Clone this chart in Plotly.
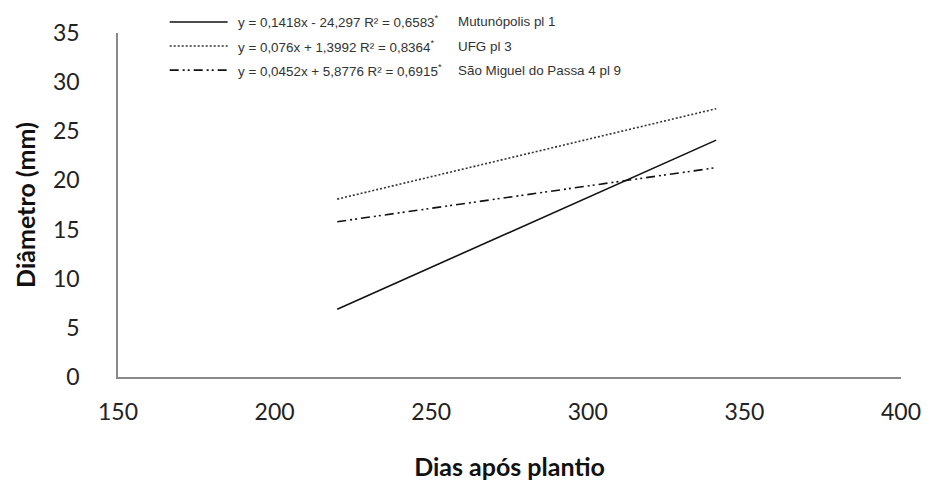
import plotly.graph_objects as go

# Days after planting at which each fitted line is drawn
dias = [220, 341]

# Fitted diameter (mm) at the two ends of each regression line
mutunopolis = [6.9, 24.1]
ufg = [18.1, 27.3]
sao_miguel = [15.8, 21.3]

# Key text: regression equations and site names
equacoes = [
    "y = 0,1418x - 24,297 R² = 0,6583<sup>*</sup>",
    "y = 0,076x + 1,3992 R² = 0,8364<sup>*</sup>",
    "y = 0,0452x + 5,8776 R² = 0,6915<sup>*</sup>",
]
locais = ["Mutunópolis pl 1", "UFG pl 3", "São Miguel do Passa 4 pl 9"]

x_ticks = [150, 200, 250, 300, 350, 400]
y_ticks = [0, 5, 10, 15, 20, 25, 30, 35]

series = [
    (mutunopolis, dict(color="#111111", width=1.6, dash="solid")),
    (ufg, dict(color="#333333", width=1.6, dash="2px,2px")),
    (sao_miguel, dict(color="#111111", width=1.6, dash="9px,4px,2px,3px,2px,4px")),
]

fig = go.Figure()
for (vals, style), nome in zip(series, locais):
    fig.add_trace(go.Scatter(x=dias, y=vals, mode="lines", line=style,
                             name=nome, showlegend=False, hoverinfo="x+y"))

# Hand-drawn key in the top part of the plotting area
key_font = dict(family="Liberation Sans, Arial", size=13.4, color="#333333")
row_y = [1.032, 0.962, 0.892]
for (vals, style), eq, nome, yy in zip(series, equacoes, locais, row_y):
    fig.add_shape(type="line", xref="paper", yref="paper",
                  x0=0.066, x1=0.14, y0=yy, y1=yy, line=style)
    fig.add_annotation(xref="paper", yref="paper", x=0.151, y=yy,
                       text=eq, showarrow=False, xanchor="left", yanchor="middle",
                       font=key_font)
    fig.add_annotation(xref="paper", yref="paper", x=0.432, y=yy,
                       text=nome, showarrow=False, xanchor="left", yanchor="middle",
                       font=key_font)

axis_font = dict(family="Lato, Open Sans, sans-serif", size=23, color="#222222")
title_font = dict(family="Lato, Open Sans, sans-serif", size=25, color="#111111")

fig.update_layout(
    width=933, height=495,
    margin=dict(l=118, r=27, t=33, b=118),
    plot_bgcolor="white", paper_bgcolor="white",
    xaxis=dict(range=[150, 400], tickvals=x_ticks, showgrid=False, zeroline=False,
               showline=True, linecolor="#8a8a8a", linewidth=1.5, ticks="",
               tickfont=axis_font, ticklabelstandoff=14,
               title=dict(text="<b>Dias após plantio</b>", font=title_font, standoff=34)),
    yaxis=dict(range=[0, 35], tickvals=y_ticks, showgrid=False, zeroline=False,
               showline=True, linecolor="#8a8a8a", linewidth=1.5, ticks="",
               tickfont=axis_font, ticklabelstandoff=32,
               title=dict(text="<b>Diâmetro (mm)</b>", font=title_font, standoff=10)),
)

fig.write_html("out.html")
